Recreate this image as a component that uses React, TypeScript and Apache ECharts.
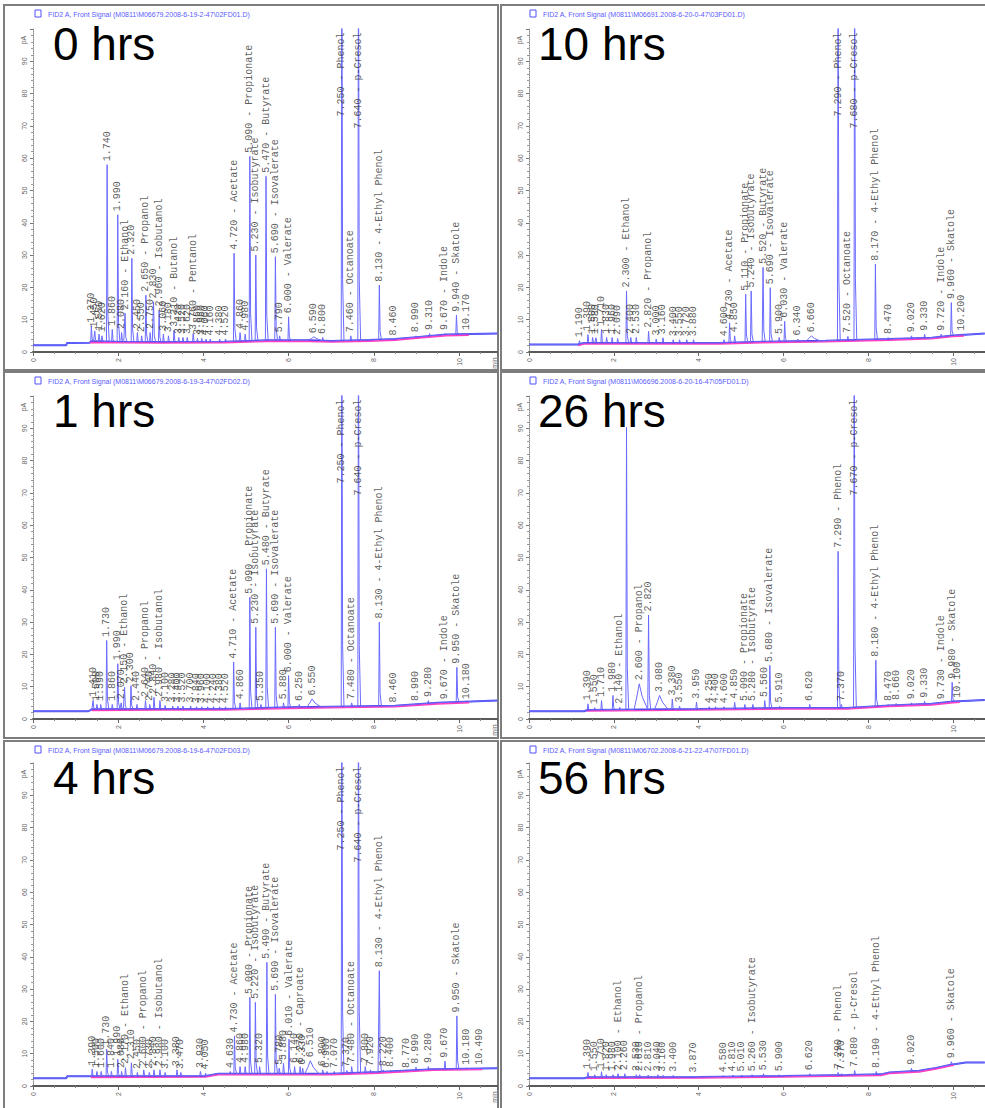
import React, { useEffect, useRef } from "react";
import * as echarts from "echarts";

// ---------- 0 hrs ----------
const rt0 = [1.37, 1.45, 1.55, 1.62, 1.74, 1.86, 1.99, 2.08, 2.16, 2.32, 2.45, 2.55, 2.65, 2.75, 2.83, 2.96, 3.06, 3.18, 3.31, 3.42, 3.52, 3.62, 3.76, 3.86, 3.96, 4.06, 4.16, 4.38, 4.52, 4.72, 4.86, 4.98, 5.09, 5.23, 5.47, 5.69, 5.79, 6.00, 6.59, 6.80, 7.25, 7.46, 7.64, 8.13, 8.46, 8.99, 9.31, 9.67, 9.94, 10.17];
const ht0 = [8.0, 6.5, 5.5, 5.0, 58.0, 7.0, 42.5, 6.0, 12.0, 29.0, 6.0, 5.0, 17.6, 6.0, 15.5, 13.0, 5.5, 5.0, 6.7, 4.5, 4.5, 4.5, 5.7, 4.2, 4.2, 4.0, 4.0, 4.0, 4.0, 30.6, 6.0, 5.5, 60.6, 30.0, 54.4, 29.5, 5.0, 10.9, 4.7, 4.5, 130, 5.0, 130, 20.7, 4.0, 5.0, 5.7, 5.7, 11.4, 5.7];
const nm0: (string | null)[] = ["", "", "", "", "", "", "", "", "Ethanol", "", "", "", "Propanol", "", "", "Isobutanol", "", "", "Butanol", "", "", "", "Pentanol", "", "", "", "", "", "", "Acetate", "", "", "Propionate", "Isobutyrate", "Butyrate", "Isovalerate", "", "Valerate", "", "", "Phenol", "Octanoate", "p-Cresol", "4-Ethyl Phenol", "", "", "", "Indole", "Skatole", ""];
const broad0 = [6.59];
const bt0 = [0, 0.78, 0.8, 1.33, 1.36, 2.0, 3.0, 4.5, 5.5, 6.5, 7.0, 7.9, 8.5, 9.0, 9.7, 10.9];
const bv0 = [2.1, 2.1, 2.8, 2.9, 3.3, 3.2, 3.1, 3.2, 3.6, 3.6, 3.4, 3.7, 4.0, 4.6, 5.4, 5.7];

// ---------- 10 hrs ----------
const rt1 = [1.19, 1.39, 1.50, 1.58, 1.71, 1.83, 1.96, 2.09, 2.30, 2.40, 2.53, 2.82, 3.00, 3.16, 3.40, 3.55, 3.72, 3.88, 4.60, 4.73, 4.85, 5.11, 5.24, 5.52, 5.69, 5.90, 6.03, 6.34, 6.66, 7.29, 7.52, 7.68, 8.17, 8.47, 9.02, 9.33, 9.72, 9.96, 10.20];
const ht1 = [3.5, 5.4, 4.5, 4.4, 7.0, 4.5, 4.5, 4.2, 18.9, 4.5, 4.5, 6.4, 4.0, 4.4, 3.8, 3.8, 3.8, 3.8, 3.8, 9.0, 5.0, 17.9, 18.9, 26.2, 19.9, 4.5, 9.5, 4.0, 5.0, 130, 4.8, 130, 27.2, 4.5, 5.0, 5.5, 5.5, 15.3, 5.5];
const nm1: (string | null)[] = ["", "", "", "", "", "", "", "", "Ethanol", "", "", "Propanol", "", "", "", "", "", "", "", "Acetate", "", "Propionate", "Isobutyrate", "Butyrate", "Isovalerate", "", "Valerate", "", "", "Phenol", "Octanoate", "p-Cresol", "4-Ethyl Phenol", "", "", "", "Indole", "Skatole", ""];
const broad1 = [6.66];
const bt1 = [0, 1.15, 1.3, 2.0, 4.5, 5.5, 7.0, 8.5, 9.5, 10.0, 10.75];
const bv1 = [2.3, 2.3, 2.8, 2.8, 2.8, 3.2, 3.5, 4.0, 4.4, 5.1, 5.7];

// ---------- 1 hrs ----------
const rt2 = [1.41, 1.50, 1.59, 1.73, 1.86, 1.99, 2.07, 2.15, 2.30, 2.44, 2.64, 2.74, 2.84, 2.98, 3.10, 3.28, 3.40, 3.52, 3.70, 3.84, 3.96, 4.10, 4.24, 4.38, 4.52, 4.71, 4.86, 5.09, 5.23, 5.35, 5.48, 5.69, 5.88, 6.00, 6.25, 6.55, 7.25, 7.48, 7.64, 8.13, 8.46, 8.99, 9.28, 9.67, 9.95, 10.18];
const ht2 = [5.7, 4.5, 4.5, 24.3, 4.5, 17.1, 5.0, 9.8, 10.3, 4.5, 5.7, 4.5, 6.7, 5.7, 4.2, 4.0, 4.0, 4.0, 4.0, 3.8, 3.8, 3.8, 3.8, 3.8, 3.8, 17.6, 5.0, 37.7, 28.4, 4.5, 46.5, 28.4, 5.0, 13.4, 4.5, 6.2, 130, 5.0, 130, 30.0, 4.0, 4.5, 5.7, 5.0, 16.0, 5.0];
const nm2: (string | null)[] = ["", "", "", "", "", "", "", "Ethanol", "", "", "Propanol", "", "", "Isobutanol", "", "", "", "", "", "", "", "", "", "", "", "Acetate", "", "Propionate", "Isobutyrate", "", "Butyrate", "Isovalerate", "", "Valerate", "", "", "Phenol", "Octanoate", "p-Cresol", "4-Ethyl Phenol", "", "", "", "Indole", "Skatole", ""];
const broad2 = [6.55];
const bt2 = [0, 1.3, 1.38, 3.0, 4.5, 6.0, 7.0, 8.5, 9.5, 10.9];
const bv2 = [2.4, 2.4, 3.0, 3.1, 3.1, 3.6, 3.8, 4.1, 5.0, 5.7];

// ---------- 26 hrs ----------
const rt3 = [1.39, 1.55, 1.71, 1.98, 2.14, 2.30, 2.60, 2.82, 3.08, 3.38, 3.55, 3.95, 4.25, 4.40, 4.60, 4.85, 5.09, 5.28, 5.56, 5.68, 5.91, 6.62, 7.29, 7.37, 7.67, 8.18, 8.47, 8.66, 9.02, 9.33, 9.73, 9.98, 10.10];
const ht3 = [4.7, 3.5, 5.7, 7.3, 3.6, 90.3, 10.9, 32.2, 7.3, 6.2, 4.0, 5.2, 3.8, 3.8, 3.8, 5.2, 4.5, 4.5, 5.7, 16.6, 4.0, 4.5, 51.9, 4.5, 130, 18.2, 4.5, 4.8, 5.0, 5.5, 5.0, 11.4, 5.5];
const nm3: (string | null)[] = ["", "", "", "", "Ethanol", null, "Propanol", "", "", "", "", "", "", "", "", "", "Propionate", "Isobutyrate", "", "Isovalerate", "", "", "Phenol", "", "p-Cresol", "4-Ethyl Phenol", "", "", "", "", "Indole", "Skatole", ""];
const broad3 = [2.60, 3.08];
const bt3 = [0, 1.3, 1.38, 4.0, 6.0, 7.5, 8.5, 9.5, 10.0, 10.75];
const bv3 = [2.4, 2.4, 2.8, 3.1, 3.4, 3.4, 4.2, 4.7, 5.4, 5.9];

// ---------- 4 hrs ----------
const rt4 = [1.39, 1.50, 1.60, 1.73, 1.84, 1.99, 2.08, 2.17, 2.31, 2.45, 2.60, 2.73, 2.84, 2.98, 3.10, 3.38, 3.47, 3.93, 4.05, 4.63, 4.73, 4.86, 4.98, 5.09, 5.22, 5.32, 5.49, 5.69, 5.78, 5.88, 6.01, 6.14, 6.27, 6.33, 6.51, 6.80, 6.90, 7.07, 7.25, 7.37, 7.48, 7.64, 7.80, 7.92, 8.13, 8.22, 8.40, 8.77, 8.99, 9.28, 9.67, 9.95, 10.18, 10.49];
const ht4 = [5.2, 4.5, 4.5, 11.4, 4.5, 8.3, 4.5, 5.7, 7.2, 4.2, 5.0, 4.2, 5.0, 5.0, 4.2, 5.0, 4.2, 4.5, 4.0, 4.5, 15.5, 6.0, 6.0, 27.4, 25.9, 6.0, 38.3, 28.4, 5.5, 7.0, 14.5, 6.0, 6.0, 5.5, 7.8, 5.0, 4.5, 4.5, 130, 4.8, 6.0, 130, 6.0, 5.0, 35.7, 5.0, 4.8, 4.5, 5.8, 6.0, 7.7, 21.7, 5.5, 5.5];
const nm4: (string | null)[] = ["", "", "", "", "", "", "", "Ethanol", "", "", "Propanol", "", "", "Isobutanol", "", "", "", "", "", "", "Acetate", "", "", "Propionate", "Isobutyrate", "", "Butyrate", "Isovalerate", "", "", "Valerate", "", "Caproate", "", "", "", "", "", "Phenol", "", "Octanoate", "p-Cresol", "", "", "4-Ethyl Phenol", "", "", "", "", "", "", "Skatole", "", ""];
const broad4 = [6.51];
const bt4 = [0, 0.78, 0.8, 1.35, 4.05, 4.35, 7.0, 8.1, 9.4, 10.9];
const bv4 = [2.4, 2.4, 3.0, 3.0, 3.1, 3.8, 3.8, 4.3, 5.2, 5.5];

// ---------- 56 hrs ----------
const rt5 = [1.39, 1.55, 1.71, 1.82, 1.98, 2.10, 2.26, 2.53, 2.61, 2.81, 3.04, 3.16, 3.40, 3.87, 4.58, 4.81, 5.01, 5.26, 5.53, 5.90, 6.62, 7.29, 7.37, 7.68, 8.19, 9.02, 9.96];
const ht5 = [4.2, 3.5, 4.4, 3.5, 3.5, 3.8, 3.8, 3.5, 3.5, 3.4, 3.5, 3.3, 3.3, 3.1, 3.2, 3.4, 3.4, 3.5, 3.8, 3.5, 3.8, 4.2, 3.8, 4.8, 4.5, 5.5, 7.5];
const nm5: (string | null)[] = ["", "", "", "", "", "Ethanol", "", "", "Propanol", "", "", "", "", "", "", "", "", "Isobutyrate", "", "", "", "Phenol", "", "p-Cresol", "4-Ethyl Phenol", "", "Skatole"];
const broad5: number[] = [];
const bt5 = [0, 1.3, 1.38, 4.0, 6.0, 7.5, 8.3, 8.5, 9.2, 9.6, 9.95, 10.3, 10.75];
const bv5 = [2.4, 2.4, 2.7, 2.8, 3.1, 3.4, 3.6, 4.2, 4.7, 5.6, 6.6, 7.3, 7.3];

const titles = ["0 hrs", "10 hrs", "1 hrs", "26 hrs", "4 hrs", "56 hrs"];
const headers = [
  "FID2 A, Front Signal (M0811\\M06679.2008-6-19-2-47\\02FD01.D)",
  "FID2 A, Front Signal (M0811\\M06691.2008-6-20-0-47\\03FD01.D)",
  "FID2 A, Front Signal (M0811\\M06679.2008-6-19-3-47\\02FD02.D)",
  "FID2 A, Front Signal (M0811\\M06696.2008-6-20-16-47\\05FD01.D)",
  "FID2 A, Front Signal (M0811\\M06679.2008-6-19-6-47\\02FD03.D)",
  "FID2 A, Front Signal (M0811\\M06702.2008-6-21-22-47\\07FD01.D)",
];
const xTicks = [0, 2, 4, 6, 8, 10];
const yTicks = [0, 10, 20, 30, 40, 50, 60, 70, 80, 90];

type Panel = { rt: number[]; ht: number[]; nm: (string | null)[]; broad: number[]; bt: number[]; bv: number[] };
const panels: Panel[] = [
  { rt: rt0, ht: ht0, nm: nm0, broad: broad0, bt: bt0, bv: bv0 },
  { rt: rt1, ht: ht1, nm: nm1, broad: broad1, bt: bt1, bv: bv1 },
  { rt: rt2, ht: ht2, nm: nm2, broad: broad2, bt: bt2, bv: bv2 },
  { rt: rt3, ht: ht3, nm: nm3, broad: broad3, bt: bt3, bv: bv3 },
  { rt: rt4, ht: ht4, nm: nm4, broad: broad4, bt: bt4, bv: bv4 },
  { rt: rt5, ht: ht5, nm: nm5, broad: broad5, bt: bt5, bv: bv5 },
];

// layout
const COL_X = [33, 529];
const PX_PER_MIN = [42.6, 42.4];
const X_MAX = [10.9, 10.75];
const ROW_Y0 = [352, 719, 1086];
const PLOT_H = 323;

function baseAt(bt: number[], bv: number[], t: number) {
  if (t <= bt[0]) return bv[0];
  for (let i = 1; i < bt.length; i++) {
    if (t <= bt[i]) {
      const f = (t - bt[i - 1]) / (bt[i] - bt[i - 1]);
      return bv[i - 1] + f * (bv[i] - bv[i - 1]);
    }
  }
  return bv[bv.length - 1];
}

function buildTrace(p: Panel) {
  const wins = p.rt.map((t) => (p.broad.includes(t) ? [t - 0.12, t + 0.2] : [t - 0.015, t + 0.05]));
  const pts: number[][] = [];
  p.bt.forEach((t, i) => {
    if (!wins.some((w) => t > w[0] && t < w[1])) pts.push([t, p.bv[i]]);
  });
  p.rt.forEach((t, i) => {
    const a = p.ht[i];
    const b = baseAt(p.bt, p.bv, t);
    if (p.broad.includes(t)) {
      pts.push([t - 0.12, baseAt(p.bt, p.bv, t - 0.12)]);
      pts.push([t - 0.05, b + 0.55 * (a - b)]);
      pts.push([t, a]);
      pts.push([t + 0.07, b + 0.5 * (a - b)]);
      pts.push([t + 0.2, baseAt(p.bt, p.bv, t + 0.2)]);
    } else {
      pts.push([t - 0.015, baseAt(p.bt, p.bv, t - 0.015)]);
      pts.push([t, a]);
      pts.push([t + 0.018, b + 0.15 * (a - b)]);
      pts.push([t + 0.05, baseAt(p.bt, p.bv, t + 0.05)]);
    }
  });
  pts.sort((u, v) => u[0] - v[0]);
  return pts;
}

function buildPink(p: Panel) {
  const t0 = p.rt[0] - 0.03;
  const t1 = p.rt[p.rt.length - 1] + 0.06;
  const pts: number[][] = [[t0, baseAt(p.bt, p.bv, t0) - 0.35]];
  p.bt.forEach((t, i) => {
    if (t > t0 && t < t1) pts.push([t, p.bv[i] - 0.35]);
  });
  pts.push([t1, baseAt(p.bt, p.bv, t1) - 0.35]);
  return pts;
}

function buildLabels(p: Panel) {
  const out: any[] = [];
  p.rt.forEach((t, i) => {
    const nm = p.nm[i];
    if (nm === null) return;
    const txt = t.toFixed(3) + (nm ? " - " + nm : "");
    const clipped = p.ht[i] > 100;
    out.push({
      value: [t, clipped ? 100 : p.ht[i]],
      label: clipped
        ? { show: true, formatter: txt, position: "bottom", distance: 3, rotate: 90, align: "right", verticalAlign: "middle" }
        : { show: true, formatter: txt, position: "top", distance: 3, rotate: 90, align: "left", verticalAlign: "middle" },
    });
  });
  return out;
}

export default function App() {
  const ref = useRef<HTMLDivElement>(null);
  useEffect(() => {
    if (!ref.current) return;
    const chart = echarts.init(ref.current, undefined, { renderer: "svg" });
    const grids: any[] = [];
    const xAxes: any[] = [];
    const yAxes: any[] = [];
    const series: any[] = [];
    const graphic: any[] = [];

    // frames
    const frameX = [4, 501];
    const frameW = [494, 490];
    const frameY = [5, 372, 741];
    const frameH = [365, 366, 370];
    for (let r = 0; r < 3; r++)
      for (let c = 0; c < 2; c++)
        graphic.push({
          type: "rect",
          silent: true,
          z: 0,
          shape: { x: frameX[c], y: frameY[r], width: frameW[c], height: frameH[r] },
          style: { fill: "none", stroke: "#7d7d7d", lineWidth: 2 },
        });

    panels.forEach((p, i) => {
      const r = Math.floor(i / 2);
      const c = i % 2;
      const y0 = ROW_Y0[r];
      grids.push({ left: COL_X[c], top: y0 - PLOT_H, width: X_MAX[c] * PX_PER_MIN[c], height: PLOT_H });
      xAxes.push({
        type: "value",
        gridIndex: i,
        min: 0,
        max: X_MAX[c],
        interval: 2,
        axisLine: { show: true, onZero: false, lineStyle: { color: "#5a5a5a", width: 2 } },
        axisTick: { show: true, length: 4, lineStyle: { color: "#666" } },
        minorTick: { show: true, splitNumber: 4, length: 2, lineStyle: { color: "#888" } },
        axisLabel: {
          fontSize: 7,
          color: "#666",
          rotate: 90,
          margin: 6,
          formatter: (v: number) => (xTicks.includes(v) ? String(v) : ""),
        },
        splitLine: { show: false },
      });
      yAxes.push({
        type: "value",
        gridIndex: i,
        min: 0,
        max: 100,
        interval: 10,
        axisLine: { show: true, lineStyle: { color: "#888", type: "dotted" } },
        axisTick: { show: true, length: 3, lineStyle: { color: "#777" } },
        minorTick: { show: true, splitNumber: 5, length: 2, lineStyle: { color: "#999" } },
        axisLabel: {
          fontSize: 7,
          color: "#666",
          rotate: 90,
          margin: 5,
          formatter: (v: number) => (yTicks.includes(v) ? String(v) : ""),
        },
        splitLine: { show: false },
      });
      // thick baseline
      series.push({
        type: "line",
        xAxisIndex: i,
        yAxisIndex: i,
        data: p.bt.map((t, k) => [t, p.bv[k]]),
        showSymbol: false,
        lineStyle: { color: "#4b4bf0", width: 2 },
        silent: true,
        z: 2,
      });
      series.push({
        type: "line",
        xAxisIndex: i,
        yAxisIndex: i,
        data: buildTrace(p),
        showSymbol: false,
        lineStyle: { color: "#6a6aff", width: 1 },
        silent: true,
        z: 3,
      });
      series.push({
        type: "line",
        xAxisIndex: i,
        yAxisIndex: i,
        data: buildPink(p),
        showSymbol: false,
        lineStyle: { color: "#ff3ec4", width: 1.4 },
        silent: true,
        z: 4,
      });
      series.push({
        type: "scatter",
        xAxisIndex: i,
        yAxisIndex: i,
        data: buildLabels(p),
        symbolSize: 1,
        itemStyle: { color: "rgba(0,0,0,0)" },
        silent: true,
        z: 5,
        label: { fontSize: 10, fontFamily: "Liberation Mono", color: "#333" },
      });

      // header
      const hx = c === 0 ? 35 : 530;
      const hy = frameY[r] + 9;
      graphic.push({
        type: "rect",
        silent: true,
        z: 10,
        shape: { x: hx, y: hy - 4, width: 6, height: 7 },
        style: { fill: "none", stroke: "#5050ff", lineWidth: 1 },
      });
      graphic.push({
        type: "text",
        silent: true,
        z: 10,
        x: hx + 13,
        y: hy,
        style: { text: headers[i], fontSize: 7, fontFamily: "Liberation Sans", fill: "#5a5aff", verticalAlign: "middle" },
      });
      // pA unit
      graphic.push({
        type: "text",
        silent: true,
        z: 10,
        x: COL_X[c] - 10,
        y: y0 - 312,
        rotation: Math.PI / 2,
        style: { text: "pA", fontSize: 7, fontFamily: "Liberation Sans", fill: "#666", align: "center", verticalAlign: "middle" },
      });
      if (c === 0) {
        graphic.push({
          type: "text",
          silent: true,
          z: 10,
          x: 494,
          y: y0 + 11,
          rotation: Math.PI / 2,
          style: { text: "min", fontSize: 7, fontFamily: "Liberation Sans", fill: "#666", align: "center", verticalAlign: "middle" },
        });
      }
      // big title
      graphic.push({
        type: "text",
        silent: true,
        z: 20,
        x: c === 0 ? 53 : 538,
        y: y0 - 309 + 1,
        style: { text: titles[i], fontSize: 46, fontFamily: "Liberation Sans", fill: "#000", verticalAlign: "middle" },
      });
    });

    chart.setOption({
      animation: false,
      backgroundColor: "#fff",
      grid: grids,
      xAxis: xAxes,
      yAxis: yAxes,
      series,
      graphic,
    });
    return () => chart.dispose();
  }, []);
  return <div ref={ref} style={{ position: "absolute", left: 0, top: 0, width: 985, height: 1108, background: "#fff" }} />;
}
